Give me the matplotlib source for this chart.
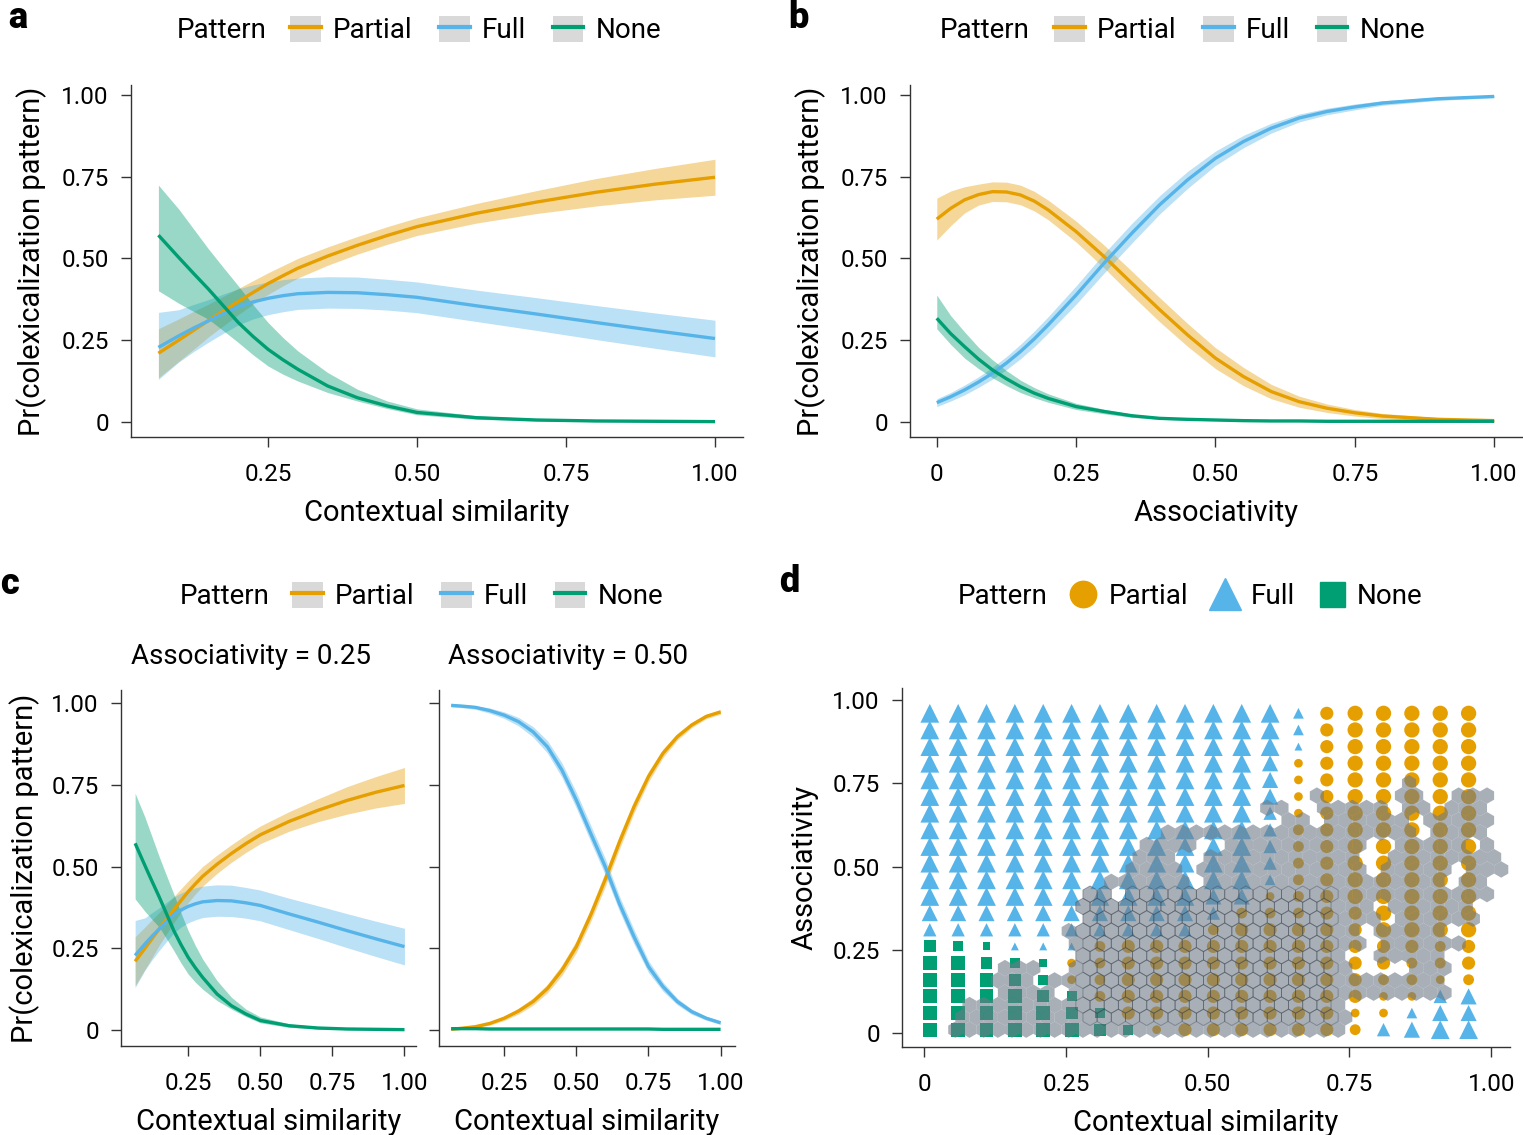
import matplotlib.pyplot as plt
from matplotlib.lines import Line2D
from matplotlib.patches import Patch
from matplotlib.legend_handler import HandlerTuple
from matplotlib.collections import PolyCollection

plt.rcParams['font.family'] = ['Roboto', 'DejaVu Sans']

C_PART = '#E69F00'
C_FULL = '#56B4E9'
C_NONE = '#009E73'

# --- panel a (and c, associativity = 0.25): contextual similarity ---
a_x = [0.066, 0.1, 0.125, 0.15, 0.175, 0.2, 0.225, 0.25, 0.275, 0.3, 0.35, 0.4, 0.45, 0.5, 0.6, 0.7, 0.8, 0.9, 1.0]
a_part = [0.21, 0.25, 0.28, 0.31, 0.339, 0.368, 0.396, 0.423, 0.447, 0.47, 0.507, 0.54, 0.57, 0.597, 0.638, 0.672, 0.702, 0.727, 0.748]
a_part_lo = [0.135, 0.185, 0.222, 0.26, 0.294, 0.328, 0.36, 0.39, 0.416, 0.44, 0.479, 0.513, 0.543, 0.57, 0.608, 0.637, 0.66, 0.679, 0.693]
a_part_hi = [0.285, 0.315, 0.338, 0.36, 0.384, 0.408, 0.432, 0.456, 0.478, 0.50, 0.535, 0.567, 0.597, 0.624, 0.668, 0.707, 0.744, 0.775, 0.803]
a_full = [0.228, 0.263, 0.287, 0.309, 0.331, 0.352, 0.367, 0.378, 0.386, 0.392, 0.396, 0.395, 0.389, 0.381, 0.355, 0.33, 0.304, 0.279, 0.255]
a_full_lo = [0.13, 0.183, 0.215, 0.244, 0.271, 0.297, 0.315, 0.328, 0.337, 0.344, 0.348, 0.347, 0.342, 0.334, 0.307, 0.28, 0.252, 0.225, 0.199]
a_full_hi = [0.335, 0.343, 0.359, 0.374, 0.391, 0.407, 0.419, 0.428, 0.435, 0.44, 0.444, 0.443, 0.436, 0.428, 0.403, 0.38, 0.356, 0.333, 0.311]
a_none = [0.571, 0.503, 0.454, 0.406, 0.355, 0.304, 0.261, 0.222, 0.19, 0.161, 0.11, 0.074, 0.049, 0.029, 0.013, 0.006, 0.003, 0.002, 0.001]
a_none_lo = [0.401, 0.363, 0.338, 0.314, 0.279, 0.243, 0.205, 0.171, 0.146, 0.125, 0.09, 0.064, 0.041, 0.022, 0.008, 0.003, 0.001, 0.0005, 0.0003]
a_none_hi = [0.724, 0.651, 0.59, 0.529, 0.472, 0.416, 0.358, 0.304, 0.258, 0.217, 0.151, 0.10, 0.064, 0.04, 0.019, 0.01, 0.005, 0.003, 0.002]

# --- panel b: associativity ---
b_x = [0, 0.025, 0.05, 0.075, 0.1, 0.125, 0.15, 0.175, 0.2, 0.25, 0.3, 0.35, 0.4, 0.45, 0.5, 0.55, 0.6, 0.65, 0.7, 0.75, 0.8, 0.9, 1.0]
b_part = [0.62, 0.653, 0.679, 0.695, 0.704, 0.703, 0.694, 0.675, 0.648, 0.582, 0.506, 0.424, 0.343, 0.266, 0.195, 0.139, 0.093, 0.062, 0.042, 0.028, 0.018, 0.008, 0.004]
b_part_lo = [0.556, 0.60, 0.639, 0.663, 0.674, 0.673, 0.664, 0.645, 0.618, 0.55, 0.471, 0.387, 0.306, 0.231, 0.163, 0.111, 0.071, 0.045, 0.029, 0.018, 0.01, 0.003, 0.0]
b_part_hi = [0.684, 0.706, 0.719, 0.727, 0.734, 0.733, 0.724, 0.705, 0.678, 0.614, 0.541, 0.461, 0.38, 0.301, 0.227, 0.167, 0.115, 0.079, 0.055, 0.038, 0.026, 0.013, 0.008]
b_full = [0.059, 0.077, 0.098, 0.122, 0.149, 0.18, 0.215, 0.254, 0.297, 0.388, 0.485, 0.577, 0.664, 0.74, 0.806, 0.857, 0.898, 0.929, 0.949, 0.963, 0.975, 0.988, 0.995]
b_full_lo = [0.047, 0.064, 0.083, 0.106, 0.131, 0.16, 0.193, 0.23, 0.272, 0.36, 0.455, 0.547, 0.636, 0.714, 0.784, 0.838, 0.883, 0.917, 0.939, 0.954, 0.968, 0.983, 0.991]
b_full_hi = [0.071, 0.09, 0.113, 0.138, 0.167, 0.2, 0.237, 0.278, 0.322, 0.416, 0.515, 0.607, 0.692, 0.766, 0.828, 0.876, 0.913, 0.941, 0.959, 0.972, 0.982, 0.993, 0.999]
b_none = [0.317, 0.27, 0.23, 0.192, 0.159, 0.132, 0.108, 0.088, 0.072, 0.047, 0.032, 0.019, 0.011, 0.008, 0.006, 0.004, 0.003, 0.003, 0.002, 0.002, 0.002, 0.002, 0.002]
b_none_lo = [0.285, 0.237, 0.195, 0.163, 0.135, 0.111, 0.09, 0.074, 0.06, 0.038, 0.025, 0.014, 0.008, 0.005, 0.004, 0.003, 0.002, 0.002, 0.001, 0.001, 0.001, 0.001, 0.001]
b_none_hi = [0.388, 0.325, 0.275, 0.228, 0.19, 0.157, 0.128, 0.105, 0.086, 0.057, 0.039, 0.024, 0.014, 0.011, 0.008, 0.006, 0.004, 0.004, 0.003, 0.003, 0.003, 0.003, 0.003]

# --- panel c, associativity = 0.50 ---
c_x = [0.066, 0.1, 0.15, 0.2, 0.25, 0.3, 0.35, 0.4, 0.45, 0.5, 0.55, 0.6, 0.65, 0.7, 0.75, 0.8, 0.85, 0.9, 0.95, 1.0]
c_full = [0.993, 0.991, 0.987, 0.977, 0.963, 0.943, 0.912, 0.866, 0.795, 0.703, 0.601, 0.50, 0.385, 0.285, 0.194, 0.133, 0.087, 0.056, 0.036, 0.022]
c_full_lo = [0.988, 0.986, 0.981, 0.969, 0.953, 0.93, 0.896, 0.847, 0.773, 0.679, 0.576, 0.475, 0.362, 0.263, 0.176, 0.119, 0.077, 0.048, 0.03, 0.017]
c_full_hi = [0.997, 0.995, 0.992, 0.985, 0.973, 0.956, 0.928, 0.885, 0.817, 0.727, 0.626, 0.525, 0.408, 0.307, 0.212, 0.147, 0.097, 0.064, 0.042, 0.027]
c_part = [0.002, 0.005, 0.01, 0.02, 0.036, 0.058, 0.087, 0.127, 0.183, 0.255, 0.352, 0.46, 0.576, 0.683, 0.775, 0.846, 0.897, 0.933, 0.959, 0.973]
c_part_lo = [0.001, 0.003, 0.007, 0.015, 0.029, 0.049, 0.076, 0.114, 0.167, 0.237, 0.332, 0.438, 0.555, 0.664, 0.759, 0.833, 0.887, 0.925, 0.952, 0.966]
c_part_hi = [0.003, 0.007, 0.013, 0.025, 0.043, 0.067, 0.098, 0.14, 0.199, 0.273, 0.372, 0.482, 0.597, 0.702, 0.791, 0.859, 0.907, 0.941, 0.966, 0.98]
c_none = [0.004, 0.004, 0.004, 0.003, 0.003, 0.003, 0.003, 0.003, 0.003, 0.003, 0.003, 0.003, 0.003, 0.003, 0.003, 0.002, 0.002, 0.002, 0.002, 0.002]

# --- panel d: predicted pattern grid (rows top -> bottom) ---
grid_x = [0.01 + 0.05 * i for i in range(20)]
grid_y = [0.96 - 0.05 * i for i in range(20)]
grid_class = [
    "FFFFFFFFFFFFFFPPPPPP",
    "FFFFFFFFFFFFFFPPPPPP",
    "FFFFFFFFFFFFFFPPPPPP",
    "FFFFFFFFFFFFFPPPPPPP",
    "FFFFFFFFFFFFFPPPPPPP",
    "FFFFFFFFFFFFFPPPPPPP",
    "FFFFFFFFFFFFFPPPPPPP",
    "FFFFFFFFFFFFFPPPPPPP",
    "FFFFFFFFFFFFFPPPPPPP",
    "FFFFFFFFFFFFFPPPPPPP",
    "FFFFFFFFFFFFFPPPPPPP",
    "FFFFFFFFFFFFPPPPPPPP",
    "FFFFFFFFFFFPPPPPPPPP",
    "FFFFFFFFFFPPPPPPPPPP",
    "NNNFFFPPPPPPPPPPPPPP",
    "NNNNNPPPPPPPPPPPPPPP",
    "NNNNNPPPPPPPPPPPPPPP",
    "NNNNNNPPPPPPPPPPPPFF",
    "NNNNNNNPPPPPPPPPPFFF",
    "NNNNNNNNPPPPPPPPFFFF",
]
grid_size = [
    "55555555555552455555",
    "55555555555552455555",
    "55555555555551455555",
    "55555555555542455555",
    "55555555555542455555",
    "55555555555542455555",
    "55555555555532455555",
    "55555555555533455555",
    "55555555555533455555",
    "55555555555533455555",
    "55555555555523455555",
    "55555555554423455555",
    "44444444443333445555",
    "33333333333444445555",
    "43211134444444444434",
    "55432234444444444334",
    "55543234444444443323",
    "55554334444444442234",
    "55555434444444422244",
    "55555543244444433455",
]
# observed word pairs: occupied hex cells per hex row (bottom -> top), column runs
hex_runs = [
    [(1, 28)], [(1, 28)], [(2, 28)], [(4, 7), (9, 35)], [(4, 6), (8, 35)],
    [(4, 6), (9, 28), (33, 35)], [(10, 28), (31, 35)], [(9, 29), (31, 36)],
    [(9, 29), (31, 35)], [(10, 30), (32, 37)], [(10, 30), (32, 37)],
    [(10, 11), (13, 38)], [(12, 17), (19, 35), (37, 38)],
    [(13, 16), (18, 29), (31, 35), (37, 39)], [(14, 16), (19, 29), (32, 39)],
    [(14, 17), (20, 29), (32, 36), (38, 38)], [(16, 33), (35, 38)],
    [(24, 25), (27, 32), (34, 38)], [(23, 24), (27, 31), (33, 34), (36, 38)],
    [(26, 26), (32, 33), (36, 38)], [(33, 33)],
]
hex_x0, hex_dx, hex_y0, hex_dy = 0.03, 0.025, 0.01, 0.037

W, H = 1523, 1135
FS_TICK, FS_LAB, FS_LEG = 17.5, 21, 20
fig = plt.figure(figsize=(W / 100, H / 100), dpi=100)


def px_box(l, t, r, b):
    return [l / W, 1 - b / H, (r - l) / W, (b - t) / H]


def style_axes(ax, xticks, xlabels, yticks=True):
    for s in ['top', 'right']:
        ax.spines[s].set_visible(False)
    for s in ['left', 'bottom']:
        ax.spines[s].set_linewidth(1.0)
        ax.spines[s].set_color('#333333')
    ax.tick_params(direction='out', length=7, width=1, color='#333333',
                   labelsize=FS_TICK)
    ax.tick_params(axis='y', pad=9)
    ax.tick_params(axis='x', pad=12)
    ax.set_xticks(xticks)
    ax.set_xticklabels(xlabels)
    ax.set_yticks([0, 0.25, 0.5, 0.75, 1.0])
    if yticks:
        ax.set_yticklabels(['0', '0.25', '0.50', '0.75', '1.00'])
    else:
        ax.set_yticklabels([])


def draw_curves(ax, x, series):
    for mid, lo, hi, col in series:
        if lo is not None:
            ax.fill_between(x, lo, hi, color=col, alpha=0.4, lw=0)
        ax.plot(x, mid, color=col, lw=2.4, solid_capstyle='butt')


tick_xs = [0.25, 0.5, 0.75, 1.0]
tick_xl = ['0.25', '0.50', '0.75', '1.00']
tick_xs0 = [0, 0.25, 0.5, 0.75, 1.0]
tick_xl0 = ['0', '0.25', '0.50', '0.75', '1.00']

# panel a
ax_a = fig.add_axes(px_box(131, 85, 743, 437))
draw_curves(ax_a, a_x, [(a_part, a_part_lo, a_part_hi, C_PART),
                        (a_full, a_full_lo, a_full_hi, C_FULL),
                        (a_none, a_none_lo, a_none_hi, C_NONE)])
ax_a.set_xlim(0.02, 1.047)
ax_a.set_ylim(-0.046, 1.03)
style_axes(ax_a, tick_xs, tick_xl)
ax_a.set_xlabel('Contextual similarity', fontsize=FS_LAB, labelpad=9)
ax_a.set_ylabel('Pr(colexicalization pattern)', fontsize=FS_LAB, labelpad=10)

# panel b
ax_b = fig.add_axes(px_box(910, 85, 1522, 437))
draw_curves(ax_b, b_x, [(b_part, b_part_lo, b_part_hi, C_PART),
                        (b_full, b_full_lo, b_full_hi, C_FULL),
                        (b_none, b_none_lo, b_none_hi, C_NONE)])
ax_b.set_xlim(-0.048, 1.05)
ax_b.set_ylim(-0.046, 1.03)
style_axes(ax_b, tick_xs0, tick_xl0)
ax_b.set_xlabel('Associativity', fontsize=FS_LAB, labelpad=9)
ax_b.set_ylabel('Pr(colexicalization pattern)', fontsize=FS_LAB, labelpad=10)

# panel c
ax_c1 = fig.add_axes(px_box(121, 690, 416, 1046))
draw_curves(ax_c1, a_x, [(a_part, a_part_lo, a_part_hi, C_PART),
                         (a_full, a_full_lo, a_full_hi, C_FULL),
                         (a_none, a_none_lo, a_none_hi, C_NONE)])
ax_c1.set_xlim(0.017, 1.04)
ax_c1.set_ylim(-0.049, 1.04)
style_axes(ax_c1, tick_xs, tick_xl)
ax_c1.set_xlabel('Contextual similarity', fontsize=FS_LAB, labelpad=9)
ax_c1.set_ylabel('Pr(colexicalization pattern)', fontsize=FS_LAB, labelpad=8)

ax_c2 = fig.add_axes(px_box(439, 690, 735, 1046))
draw_curves(ax_c2, c_x, [(c_part, c_part_lo, c_part_hi, C_PART),
                         (c_full, c_full_lo, c_full_hi, C_FULL),
                         (c_none, None, None, C_NONE)])
ax_c2.set_xlim(0.024, 1.05)
ax_c2.set_ylim(-0.049, 1.04)
style_axes(ax_c2, tick_xs, tick_xl, yticks=False)
ax_c2.set_xlabel('Contextual similarity', fontsize=FS_LAB, labelpad=9)

fig.text(251 / W, 1 - 656 / H, 'Associativity = 0.25', fontsize=FS_LEG, ha='center', va='center')
fig.text(568 / W, 1 - 656 / H, 'Associativity = 0.50', fontsize=FS_LEG, ha='center', va='center')

# panel d
ax_d = fig.add_axes(px_box(902, 688, 1510, 1047))
base_ms = {'P': 11.0, 'F': 13.5, 'N': 10.0}
shape = {'P': 'o', 'F': '^', 'N': 's'}
colour = {'P': C_PART, 'F': C_FULL, 'N': C_NONE}
scale = {'1': 0.42, '2': 0.57, '3': 0.71, '4': 0.86, '5': 1.0}
for cls in ['P', 'F', 'N']:
    xs, ys, ss = [], [], []
    for r, (row_c, row_s) in enumerate(zip(grid_class, grid_size)):
        for c, (k, lev) in enumerate(zip(row_c, row_s)):
            if k == cls:
                xs.append(grid_x[c])
                ys.append(grid_y[r])
                ss.append((base_ms[cls] * scale[lev]) ** 2)
    ax_d.scatter(xs, ys, s=ss, marker=shape[cls], color=colour[cls],
                 linewidths=0, zorder=2)

hx_r = hex_dx / 2
hy_r = 0.0246
verts, verts_edge = [], []
for r, runs in enumerate(hex_runs):
    cy = hex_y0 + r * hex_dy
    for c0, c1 in runs:
        for c in range(c0, c1 + 1):
            cx = hex_x0 + c * hex_dx + (hex_dx / 2 if r % 2 else 0)
            hv = [(cx, cy + hy_r), (cx + hx_r, cy + hy_r / 2), (cx + hx_r, cy - hy_r / 2),
                  (cx, cy - hy_r), (cx - hx_r, cy - hy_r / 2), (cx - hx_r, cy + hy_r / 2)]
            verts.append(hv)
            if 0.27 <= cx <= 0.72 and 0.04 <= cy <= 0.42:
                verts_edge.append(hv)
ax_d.add_collection(PolyCollection(verts, facecolor='#6f7a88', edgecolor='none',
                                   alpha=0.6, zorder=3))
ax_d.add_collection(PolyCollection(verts_edge, facecolor='none', edgecolor='#3c4550',
                                   linewidth=0.6, alpha=0.5, zorder=4))
ax_d.set_xlim(-0.039, 1.033)
ax_d.set_ylim(-0.042, 1.036)
style_axes(ax_d, tick_xs0, tick_xl0)
ax_d.set_xlabel('Contextual similarity', fontsize=FS_LAB, labelpad=9)
ax_d.set_ylabel('Associativity', fontsize=FS_LAB, labelpad=10)

# legends
line_handles = [(Patch(facecolor='#d9d9d9', edgecolor='none'), Line2D([], [], color=col, lw=3))
                for col in [C_PART, C_FULL, C_NONE]]
names = ['Partial', 'Full', 'None']


def line_legend(x_text, x_leg, y):
    fig.text(x_text / W, 1 - y / H, 'Pattern', fontsize=FS_LEG, ha='left', va='center')
    fig.legend(line_handles, names, loc='center left', bbox_to_anchor=(x_leg / W, 1 - y / H),
               ncol=3, frameon=False, fontsize=FS_LEG, handlelength=1.1, handleheight=1.1,
               handletextpad=0.45, columnspacing=0.95, borderpad=0, borderaxespad=0,
               handler_map={tuple: HandlerTuple(ndivide=1)})


line_legend(177, 290, 30)
line_legend(940, 1054, 30)
line_legend(180, 292, 596)

fig.text(958 / W, 1 - 596 / H, 'Pattern', fontsize=FS_LEG, ha='left', va='center')
mk_handles = [Line2D([], [], marker='o', ls='', color=C_PART, ms=19),
              Line2D([], [], marker='^', ls='', color=C_FULL, ms=23),
              Line2D([], [], marker='s', ls='', color=C_NONE, ms=18)]
fig.legend(mk_handles, names, loc='center left', bbox_to_anchor=(1068 / W, 1 - 596 / H),
           ncol=3, frameon=False, fontsize=FS_LEG, handlelength=1.1, handletextpad=0.35,
           columnspacing=0.8, borderpad=0, borderaxespad=0)

# panel letters
for lab, x, y in [('a', 8, 18), ('b', 788, 18), ('c', 0, 584), ('d', 779, 582)]:
    fig.text(x / W, 1 - y / H, lab, fontsize=26, fontweight='heavy', ha='left', va='center')

fig.savefig('out.png', dpi=100)
